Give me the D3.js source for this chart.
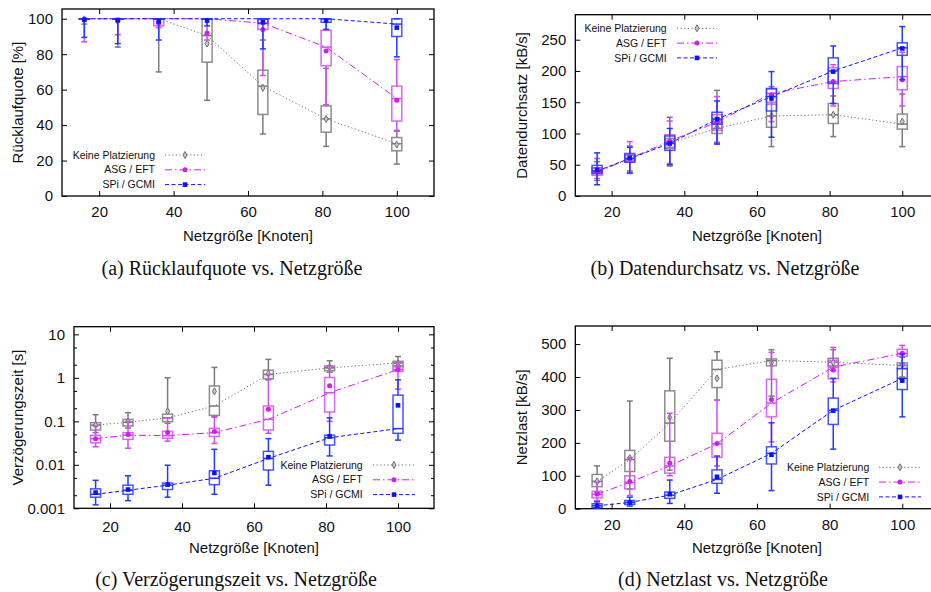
<!DOCTYPE html>
<html>
<head>
<meta charset="utf-8">
<script src="https://cdn.jsdelivr.net/npm/d3@7"></script>
<style>
  body { margin: 0; background: #fff; }
  svg { display: block; }
  text { font-family: "Liberation Sans", Arial, sans-serif; fill: #111; }
  .caption { font-family: "Liberation Serif", "Times New Roman", serif; font-size: 20px; }
</style>
</head>
<body>
<svg id="chart" width="931" height="592"></svg>
<script>
// Netzgröße (x positions of the boxes)
const nodes = [16, 25, 36, 49, 64, 81, 100];
const seriesNames = ["Keine Platzierung", "ASG / EFT", "SPi / GCMI"];
const xTicks = [20, 40, 60, 80, 100];

// every entry: [min, q1, median, q3, max, mean]
// (a) Rücklaufquote [%]
const quoteKeine = [[97,100,100,100,100,99.7],[84,100,100,100,100,98.5],[70,100,100,100,100,98],[54,75.5,90.5,100,100,86],[35,46,62,71,88,61],[28,36,43.5,50.8,72,43.5],[18,25.5,29.5,33,37,29]];
const quoteAsg = [[87,100,100,100,100,99.5],[91,100,100,100,100,99],[95,96,100,100,100,97.5],[88,100,100,100,100,92],[68,94,97.5,100,100,94],[51.5,73.5,84,93.5,100,81.8],[36.5,42.3,55,62,77,54]];
const quoteSpi = [[89.5,100,100,100,100,99.5],[86,100,100,100,100,99.3],[88,100,100,100,100,98.5],[96,100,100,100,100,99],[83,97.3,100,100,100,98],[94,98,100,100,100,99],[78.5,90,97,100,100,95]];

// (b) Datendurchsatz [kB/s]
const rateKeine = [[25,36,40,45,55,40],[40,56,60,65,80,60],[48,76,85,92,126,84],[86,100,108,115,169,110],[79,110,128,147,160,128],[95,116,130,148,160,130],[79,107,115,131,163,119]];
const rateAsg = [[28,33,38,45,60,39],[36,55,60,66,87,60],[52,78,88,98,120,88],[84,105,118,130,159,118],[119,150,164,171,175,162],[144,172,183,205,210,183],[144,170,191,207,230,186]];
const rateSpi = [[18,36,40,49,69,42],[37,54,60,68,78,61],[50,73,84,96,108,84],[83,115,123,134,152,123],[94,136,159,172,199,156],[148,180,200,221,240,199],[186,225,237,245,271,236]];

// (c) Verzögerungszeit [s]
const delayKeine = [[0.055,0.063,0.082,0.093,0.142,0.082],[0.07,0.078,0.095,0.111,0.158,0.1],[0.09,0.098,0.12,0.147,1.0,0.17],[0.13,0.137,0.225,0.65,1.74,0.49],[0.9,0.95,1.2,1.5,2.66,1.25],[1.35,1.45,1.7,1.87,2.47,1.75],[1.8,1.9,2.2,2.4,3.1,2.15]];
const delayAsg = [[0.026,0.032,0.04,0.0476,0.078,0.04],[0.024,0.0385,0.048,0.055,0.1,0.05],[0.035,0.041,0.047,0.059,0.12,0.055],[0.031,0.045,0.055,0.069,0.124,0.058],[0.053,0.063,0.111,0.225,1.2,0.189],[0.1,0.164,0.454,1.02,1.9,0.66],[0.55,1.41,1.55,1.8,2.3,1.55]];
const delaySpi = [[0.0012,0.0018,0.0021,0.0028,0.0044,0.0023],[0.0015,0.0021,0.0026,0.0034,0.0056,0.0027],[0.0018,0.0027,0.0034,0.0038,0.0098,0.0035],[0.0021,0.0035,0.0049,0.0073,0.0227,0.0065],[0.0034,0.0076,0.014,0.0204,0.04,0.015],[0.016,0.0285,0.042,0.048,0.12,0.045],[0.037,0.053,0.068,0.4,0.9,0.233]];

// (d) Netzlast [kB/s]
const loadKeine = [[50,67,83,104,130,83],[60,113,149,177,327,154],[117,205,260,358,457,277],[330,368,423,451,477,396],[342,434,450,455,483,444],[420,434,445,457,483,444],[400,425,435,443,460,437]];
const loadAsg = [[25,33,44,53,80,44],[40,60,80,100,155,83],[100,108,130,156,290,139],[130,156,197,229,330,198],[203,279,321,393,475,332],[385,395,430,451,490,421],[440,463,472,484,496,472]];
const loadSpi = [[2,3,9,15,21,9],[8,13,19,25,35,19],[16,31.5,41,50.7,87,44],[47,77,89,118,160,97],[55,136,168,188,261,164],[181,256,299,336,396,298],[279,362,396,426,470,389]];

const styles = [
  { line: "#6e6e6e", box: "#7a7a7a", dash: "1.2,2.4", marker: "diamond" },
  { line: "#d21cf0", box: "#d24cf5", dash: "7,3,1.5,3", marker: "circle" },
  { line: "#1010ff", box: "#2438ff", dash: "4,2.5", marker: "square" }
];

const panels = [
  { left: 62, right: 434, top: 9, bottom: 196, yDomain: [0, 105.5], yTicks: [0, 20, 40, 60, 80, 100],
    ylabel: "Rücklaufquote [%]", ylabelX: 18, xlabelY: 236, xPad: 10.5,
    caption: "(a) Rücklaufquote vs. Netzgröße", captionX: 232, captionY: 275,
    legend: { textX: 155, y: 155, x0: 165, x1: 205 }, data: [quoteKeine, quoteAsg, quoteSpi] },
  { left: 575.3, right: 938.6, top: 14.7, bottom: 196, yDomain: [0, 290], yTicks: [0, 50, 100, 150, 200, 250],
    ylabel: "Datendurchsatz [kB/s]", ylabelX: 522, xlabelY: 236, xPad: 10.5,
    caption: "(b) Datendurchsatz vs. Netzgröße", captionX: 725, captionY: 275,
    legend: { textX: 666.7, y: 28.3, x0: 677, x1: 717 }, data: [rateKeine, rateAsg, rateSpi] },
  { left: 74, right: 434, top: 326.7, bottom: 508.3, yDomain: [0.001, 15], log: true,
    yTicks: [0.001, 0.01, 0.1, 1, 10],
    ylabel: "Verzögerungszeit [s]", ylabelX: 18, xlabelY: 548, xPad: 13,
    caption: "(c) Verzögerungszeit vs. Netzgröße", captionX: 236, captionY: 586,
    legend: { textX: 362.7, y: 465, x0: 373, x1: 415 }, data: [delayKeine, delayAsg, delaySpi] },
  { left: 575.3, right: 938.6, top: 326, bottom: 508.7, yDomain: [0, 555], yTicks: [0, 100, 200, 300, 400, 500],
    ylabel: "Netzlast [kB/s]", ylabelX: 522, xlabelY: 548, xPad: 11,
    caption: "(d) Netzlast vs. Netzgröße", captionX: 723, captionY: 586,
    legend: { textX: 869.3, y: 467.3, x0: 879, x1: 921 }, data: [loadKeine, loadAsg, loadSpi] }
];

const svg = d3.select("#chart");
svg.append("rect").attr("width", 931).attr("height", 592).attr("fill", "#fff");

function drawMarker(g, type, x, y, color) {
  if (type === "diamond") {
    g.append("path")
      .attr("d", d3.symbol(d3.symbolDiamond, 14)())
      .attr("transform", `translate(${x},${y})`)
      .attr("fill", "#c8c8c8").attr("stroke", color).attr("stroke-width", 1);
  } else if (type === "circle") {
    g.append("circle").attr("cx", x).attr("cy", y).attr("r", 2.5).attr("fill", color);
  } else {
    g.append("rect").attr("x", x - 2.3).attr("y", y - 2.3).attr("width", 4.6).attr("height", 4.6).attr("fill", color);
  }
}

function drawPanel(p) {
  const x = d3.scaleLinear().domain([10, 110]).range([p.left, p.right]);
  const y = (p.log ? d3.scaleLog() : d3.scaleLinear()).domain(p.yDomain).range([p.bottom, p.top]);
  const g = svg.append("g");
  const fmt = p.log ? (d => String(d)) : d3.format("d");

  // axes with inward ticks, mirrored on top / right
  const ax = (sel) => sel.call(s => s.select(".domain").remove())
    .call(s => s.selectAll("line").attr("stroke", "#000"))
    .call(s => s.selectAll("text").style("font-size", "15px").attr("fill", "#111"));
  g.append("g").attr("transform", `translate(0,${p.bottom})`)
    .call(d3.axisBottom(x).tickValues(xTicks).tickSizeInner(-5).tickSizeOuter(0).tickPadding(p.xPad).tickFormat(d3.format("d"))).call(ax);
  g.append("g").attr("transform", `translate(0,${p.top})`)
    .call(d3.axisTop(x).tickValues(xTicks).tickSizeInner(-5).tickSizeOuter(0).tickFormat("")).call(ax);
  g.append("g").attr("transform", `translate(${p.left},0)`)
    .call(d3.axisLeft(y).tickValues(p.yTicks).tickSizeInner(-5).tickSizeOuter(0).tickPadding(9).tickFormat(fmt)).call(ax);
  g.append("g").attr("transform", `translate(${p.right},0)`)
    .call(d3.axisRight(y).tickValues(p.yTicks).tickSizeInner(-5).tickSizeOuter(0).tickFormat("")).call(ax);
  if (p.log) {
    const minor = [];
    [0.001, 0.01, 0.1, 1].forEach(d => minor.push(d * 2, d * 5));
    g.append("g").attr("transform", `translate(${p.left},0)`)
      .call(d3.axisLeft(y).tickValues(minor).tickSizeInner(-3).tickSizeOuter(0).tickFormat("")).call(ax);
    g.append("g").attr("transform", `translate(${p.right},0)`)
      .call(d3.axisRight(y).tickValues(minor).tickSizeInner(-3).tickSizeOuter(0).tickFormat("")).call(ax);
  }

  // frame
  g.append("rect").attr("x", p.left).attr("y", p.top)
    .attr("width", p.right - p.left).attr("height", p.bottom - p.top)
    .attr("fill", "none").attr("stroke", "#000").attr("stroke-width", 1.3);

  // labels
  g.append("text").attr("x", x(60)).attr("y", p.xlabelY).attr("dy", "0.35em")
    .attr("text-anchor", "middle").style("font-size", "15px").text("Netzgröße [Knoten]");
  g.append("text")
    .attr("transform", `translate(${p.ylabelX},${(p.top + p.bottom) / 2}) rotate(-90)`)
    .attr("dy", "0.35em").attr("text-anchor", "middle").style("font-size", "15px").text(p.ylabel);
  svg.append("text").attr("class", "caption").attr("x", p.captionX).attr("y", p.captionY)
    .attr("text-anchor", "middle").text(p.caption);

  const half = 5, cap = 3;
  p.data.forEach((rows, si) => {
    const st = styles[si];
    const sg = g.append("g");
    // median line
    sg.append("path")
      .datum(rows.map((r, i) => [nodes[i], r[2]]))
      .attr("d", d3.line().x(d => x(d[0])).y(d => y(d[1])))
      .attr("fill", "none").attr("stroke", st.line).attr("stroke-width", 1)
      .attr("stroke-dasharray", st.dash);
    rows.forEach((r, i) => {
      const cx = x(nodes[i]);
      const [mn, q1, md, q3, mx, mean] = r;
      const bg = sg.append("g").attr("stroke", st.box).attr("stroke-width", 1.5).attr("fill", "none");
      // whiskers
      bg.append("line").attr("x1", cx).attr("x2", cx).attr("y1", y(mn)).attr("y2", y(q1));
      bg.append("line").attr("x1", cx).attr("x2", cx).attr("y1", y(q3)).attr("y2", y(mx));
      bg.append("line").attr("x1", cx - cap).attr("x2", cx + cap).attr("y1", y(mn)).attr("y2", y(mn));
      bg.append("line").attr("x1", cx - cap).attr("x2", cx + cap).attr("y1", y(mx)).attr("y2", y(mx));
      // box
      bg.append("rect").attr("x", cx - half).attr("width", 2 * half)
        .attr("y", y(q3)).attr("height", Math.max(0.5, y(q1) - y(q3))).attr("opacity", 0.85);
      bg.append("line").attr("x1", cx - half).attr("x2", cx + half).attr("y1", y(md)).attr("y2", y(md));
      drawMarker(sg, st.marker, cx, y(mean), st.line);
    });
  });

  // legend
  const lg = g.append("g");
  seriesNames.forEach((name, si) => {
    const st = styles[si];
    const ly = p.legend.y + si * 14.8;
    lg.append("text").attr("x", p.legend.textX).attr("y", ly).attr("dy", "0.35em")
      .attr("text-anchor", "end").style("font-size", "10.5px").text(name);
    lg.append("line").attr("x1", p.legend.x0).attr("x2", p.legend.x1).attr("y1", ly).attr("y2", ly)
      .attr("stroke", st.line).attr("stroke-width", 1).attr("stroke-dasharray", st.dash);
    drawMarker(lg, st.marker, (p.legend.x0 + p.legend.x1) / 2, ly, st.line);
  });
}

panels.forEach(drawPanel);
</script>
</body>
</html>
